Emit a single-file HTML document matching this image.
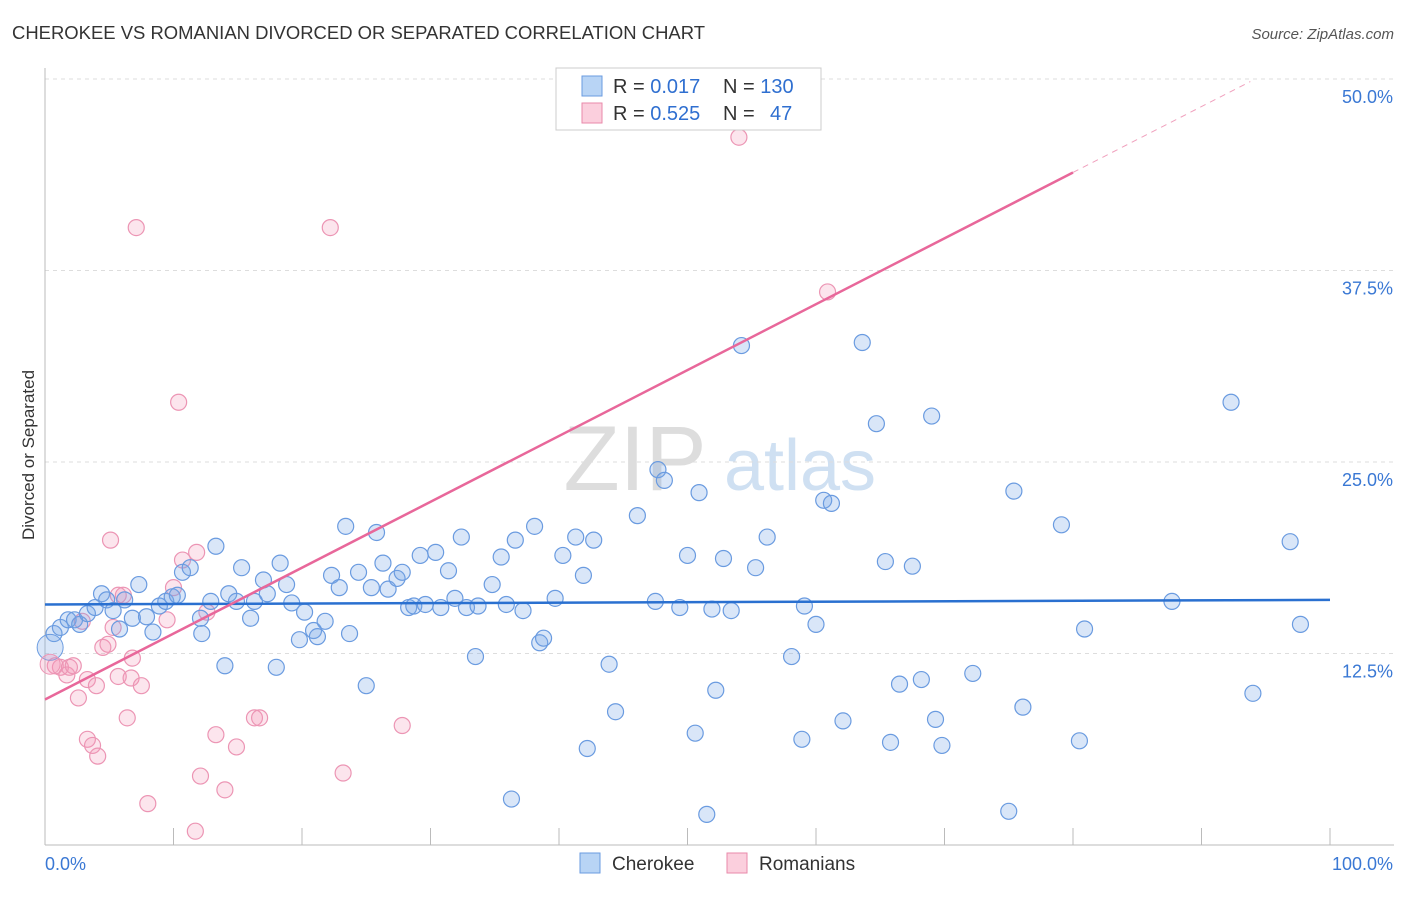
<!DOCTYPE html>
<html><head><meta charset="utf-8"><style>
body{margin:0;background:#fff;font-family:"Liberation Sans",sans-serif}
svg text{font-family:"Liberation Sans",sans-serif}
</style></head><body>
<svg id="chart" width="1406" height="892">
<text x="12" y="39" font-size="18" fill="#333" textLength="693" lengthAdjust="spacingAndGlyphs">CHEROKEE VS ROMANIAN DIVORCED OR SEPARATED CORRELATION CHART</text>
<text x="1394" y="39" font-size="15" fill="#555" text-anchor="end" font-style="italic">Source: ZipAtlas.com</text>
<text x="34" y="455" font-size="17" fill="#333" text-anchor="middle" transform="rotate(-90 34 455)">Divorced or Separated</text>
<g><text x="635" y="490" font-size="92" fill="#ddd" font-family="Liberation Serif" text-anchor="middle">ZIP</text><text x="800" y="490" font-size="72" fill="#cfe0f2" text-anchor="middle">atlas</text></g>
<g id="grid"></g><g id="axes"></g><g id="marks"></g>
<g>
<rect x="556" y="68" width="265" height="62" fill="#fff" stroke="#ccc"/>
<rect x="582" y="76" width="20" height="20" fill="#b8d4f5" stroke="#6a9be0"/>
<rect x="582" y="103" width="20" height="20" fill="#fbcfdd" stroke="#e88aaa"/>
<text x="613" y="93" font-size="20" fill="#333">R = <tspan fill="#2f6fd0">0.017</tspan><tspan x="723">N = </tspan><tspan fill="#2f6fd0">130</tspan></text>
<text x="613" y="120" font-size="20" fill="#333">R = <tspan fill="#2f6fd0">0.525</tspan><tspan x="723">N = </tspan><tspan x="770" fill="#2f6fd0">47</tspan></text>
</g>
<g>
<rect x="580" y="853" width="20" height="20" fill="#b8d4f5" stroke="#6a9be0"/>
<text x="612" y="870" font-size="19" fill="#333">Cherokee</text>
<rect x="727" y="853" width="20" height="20" fill="#fbcfdd" stroke="#e88aaa"/>
<text x="759" y="870" font-size="19" fill="#333">Romanians</text>
</g>
</svg>
<script>
const yTicks=[12.5,25,37.5,50];
const yTickLabels=["12.5%","25.0%","37.5%","50.0%"];
const xTicks=[0,10,20,30,40,50,60,70,80,90,100];
const blueX=[0.7,1.2,1.8,2.3,2.7,3.3,3.9,4.4,4.8,5.3,5.8,6.2,6.8,7.3,7.9,8.4,8.9,9.4,9.9,10.3,10.7,11.3,12.1,12.2,12.9,13.3,14.0,14.3,14.9,15.3,16.0,16.3,17.0,17.3,18.0,18.3,18.8,19.2,19.8,20.2,20.9,21.2,21.8,22.3,22.9,23.4,23.7,24.4,25.0,25.4,25.8,26.3,26.7,27.4,27.8,28.3,28.7,29.2,29.6,30.4,30.8,31.4,31.9,32.4,32.8,33.5,33.7,34.8,35.5,35.9,36.3,36.6,37.2,38.1,38.5,38.8,39.7,40.3,41.3,41.9,42.2,42.7,43.9,44.4,46.1,47.5,47.7,48.2,49.4,50.0,50.6,50.9,51.5,51.9,52.2,52.8,53.4,54.2,55.3,56.2,58.1,58.9,59.1,60.0,60.6,61.2,62.1,63.6,64.7,65.4,65.8,66.5,67.5,68.2,69.0,69.3,69.8,72.2,75.0,75.4,76.1,79.1,80.5,80.9,87.7,92.3,94.0,96.9,97.7];
const blueY=[13.8,14.2,14.7,14.7,14.4,15.1,15.5,16.4,16.0,15.3,14.1,16.0,14.8,17.0,14.9,13.9,15.6,15.9,16.2,16.3,17.8,18.1,14.8,13.8,15.9,19.5,11.7,16.4,15.9,18.1,14.8,15.9,17.3,16.4,11.6,18.4,17.0,15.8,13.4,15.2,14.0,13.6,14.6,17.6,16.8,20.8,13.8,17.8,10.4,16.8,20.4,18.4,16.7,17.4,17.8,15.5,15.6,18.9,15.7,19.1,15.5,17.9,16.1,20.1,15.5,12.3,15.6,17.0,18.8,15.7,3.0,19.9,15.3,20.8,13.2,13.5,16.1,18.9,20.1,17.6,6.3,19.9,11.8,8.7,21.5,15.9,24.5,23.8,15.5,18.9,7.3,23.0,2.0,15.4,10.1,18.7,15.3,32.6,18.1,20.1,12.3,6.9,15.6,14.4,22.5,22.3,8.1,32.8,27.5,18.5,6.7,10.5,18.2,10.8,28.0,8.2,6.5,11.2,2.2,23.1,9.0,20.9,6.8,14.1,15.9,28.9,9.9,19.8,14.4];
const pinkX=[0.8,1.2,1.7,1.9,2.2,2.6,2.9,3.3,3.3,3.7,4.0,4.1,4.5,4.9,5.3,5.7,5.7,6.1,6.4,6.7,6.8,7.1,7.5,8.0,9.5,10.0,10.4,10.7,11.8,11.7,12.1,12.6,13.3,14.0,14.9,16.3,16.7,22.2,23.2,27.8,54.0,60.9,5.1];
const pinkY=[11.7,11.6,11.1,11.6,11.7,9.6,14.6,10.8,6.9,6.5,10.4,5.8,12.9,13.1,14.2,11.0,16.3,16.3,8.3,10.9,12.2,40.3,10.4,2.7,14.7,16.8,28.9,18.6,19.1,0.9,4.5,15.2,7.2,3.6,6.4,8.3,8.3,40.3,4.7,7.8,46.2,36.1,19.9];
const blueTrend=[15.7,16.0];
const pinkTrend=[9.5,0.43];
const NS='http://www.w3.org/2000/svg';
const X=v=>45+v*12.85, Y=v=>845-v*15.32;
function mk(tag,attrs,parent){const e=document.createElementNS(NS,tag);for(const k in attrs)e.setAttribute(k,attrs[k]);parent.appendChild(e);return e;}
const grid=document.getElementById('grid'),axes=document.getElementById('axes'),marks=document.getElementById('marks');
yTicks.forEach((t,i)=>{
 const l=mk('line',{x1:45,x2:1394,y1:Y(t),y2:Y(t),stroke:'#ddd','stroke-dasharray':'4,4'},grid);
 
 
 const tx=mk('text',{x:1393,y:Y(t)+24,'font-size':18,fill:'#3a78d4','text-anchor':'end'},axes);
 tx.textContent=yTickLabels[i];
 
 
});
const ya=mk('line',{x1:45,x2:45,y1:68,y2:845,stroke:'#bbb'},axes);


const xa=mk('line',{x1:45,x2:1394,y1:845,y2:845,stroke:'#bbb'},axes);


xTicks.forEach(t=>{
 const l=mk('line',{x1:X(t),x2:X(t),y1:828,y2:845,stroke:'#bbb'},axes);
 
 
});
const x0=mk('text',{x:45,y:870,'font-size':18,fill:'#3a78d4'},axes);x0.textContent='0.0%';


const x1=mk('text',{x:1393,y:870,'font-size':18,fill:'#3a78d4','text-anchor':'end'},axes);x1.textContent='100.0%';


pinkX.forEach((x,i)=>{
 const c=mk('circle',{cx:X(x),cy:Y(pinkY[i]),r:8,fill:'rgba(245,150,185,0.25)',stroke:'#ec95b4','stroke-width':1.2},marks);
 
 
});
blueX.forEach((x,i)=>{
 const c=mk('circle',{cx:X(x),cy:Y(blueY[i]),r:8,fill:'rgba(120,165,230,0.28)',stroke:'#6a9be0','stroke-width':1.2},marks);
 
 
});
const bigB=mk('circle',{cx:X(0.4),cy:Y(12.9),r:13,fill:'rgba(120,165,230,0.28)',stroke:'#6a9be0'},marks);


const bigP=mk('circle',{cx:X(0.4),cy:Y(11.8),r:10,fill:'rgba(245,150,185,0.3)',stroke:'#ec95b4'},marks);


const bt=mk('line',{x1:X(0),y1:Y(blueTrend[0]),x2:X(100),y2:Y(blueTrend[1]),stroke:'#2a70d0','stroke-width':2.5},marks);


const pf=v=>pinkTrend[0]+pinkTrend[1]*v;
const pt=mk('line',{x1:X(0),y1:Y(pf(0)),x2:X(80),y2:Y(pf(80)),stroke:'#e8679a','stroke-width':2.5},marks);


const pd=mk('line',{x1:X(80),y1:Y(pf(80)),x2:X(93.8),y2:Y(pf(93.8)),stroke:'#f0a0bd','stroke-width':1,'stroke-dasharray':'6,5'},marks);


</script>
</body></html>
